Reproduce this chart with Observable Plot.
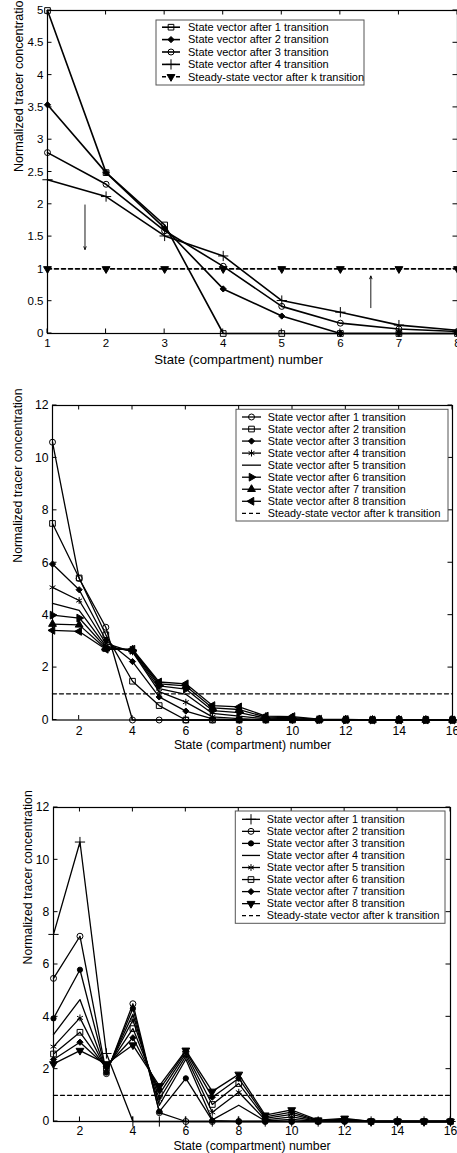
<!DOCTYPE html>
<html>
<head>
<meta charset="utf-8">
<script src="https://cdn.jsdelivr.net/npm/d3@7"></script>
<script src="https://cdn.jsdelivr.net/npm/@observablehq/plot@0.6"></script>
<style>
  html, body { margin: 0; padding: 0; background: #fff; }
  body { width: 457px; height: 1153px; overflow: hidden; }
  #root { position: relative; width: 457px; height: 1153px; }
  .panel { position: absolute; left: 0; }
  .panel svg { max-width: none !important; overflow: visible; display: block; }
</style>
</head>
<body>
<div id="root"></div>
<script>
// ---------- Panel A: 8-compartment system ----------
const statesA = [1, 2, 3, 4, 5, 6, 7, 8];
const a1 = [5.00, 2.49, 1.68, 0, 0, 0, 0, 0];
const a2 = [3.54, 2.49, 1.63, 0.69, 0.27, 0, 0, 0];
const a3 = [2.80, 2.31, 1.59, 1.04, 0.42, 0.16, 0.07, 0.03];
const a4 = [2.38, 2.12, 1.51, 1.20, 0.51, 0.33, 0.13, 0.05];
const aSteady = [1, 1, 1, 1, 1, 1, 1, 1];
const aXTicks = [1, 2, 3, 4, 5, 6, 7, 8];
const aXTickLabels = ["1", "2", "3", "4", "5", "6", "7", "8"];
const aYTicks = [0, 0.5, 1, 1.5, 2, 2.5, 3, 3.5, 4, 4.5, 5];
const aYTickLabels = ["0", "0.5", "1", "1.5", "2", "2.5", "3", "3.5", "4", "4.5", "5"];
// arrows showing the approach to steady state
const arrowX = [1.64, 6.52];
const arrowFrom = [1.99, 0.40];
const arrowTo = [1.30, 0.89];

// ---------- Panel B: 16-compartment chain ----------
const statesB = [1, 2, 3, 4, 5, 6, 7, 8, 9, 10, 11, 12, 13, 14, 15, 16];
const b1 = [10.6, 5.40, 3.54, 0, 0, 0, 0, 0, 0, 0, 0, 0, 0, 0, 0, 0];
const b2 = [7.50, 5.42, 3.25, 1.48, 0.55, 0, 0, 0, 0, 0, 0, 0, 0, 0, 0, 0];
const b3 = [5.95, 4.97, 3.05, 2.23, 0.88, 0.34, 0.04, 0, 0, 0, 0, 0, 0, 0, 0, 0];
const b4 = [5.06, 4.56, 2.92, 2.60, 1.08, 0.68, 0.12, 0.05, 0.01, 0, 0, 0, 0, 0, 0, 0];
const b5 = [4.45, 4.18, 2.82, 2.63, 1.20, 0.98, 0.25, 0.15, 0.04, 0.02, 0, 0, 0, 0, 0, 0];
const b6 = [4.00, 3.89, 2.76, 2.66, 1.30, 1.18, 0.36, 0.28, 0.07, 0.05, 0.01, 0, 0, 0, 0, 0];
const b7 = [3.66, 3.63, 2.72, 2.68, 1.38, 1.30, 0.46, 0.40, 0.11, 0.09, 0.02, 0.01, 0, 0, 0, 0];
const b8 = [3.42, 3.38, 2.70, 2.70, 1.45, 1.38, 0.55, 0.50, 0.15, 0.13, 0.03, 0.02, 0, 0, 0, 0];
const bSteady = [1, 1, 1, 1, 1, 1, 1, 1, 1, 1, 1, 1, 1, 1, 1, 1];

// ---------- Panel C: 16-compartment branched system ----------
const statesC = [1, 2, 3, 4, 5, 6, 7, 8, 9, 10, 11, 12, 13, 14, 15, 16];
const c1 = [7.15, 10.68, 2.60, 0, 0, 0, 0, 0, 0, 0, 0, 0, 0, 0, 0, 0];
const c2 = [5.47, 7.08, 1.83, 4.50, 0.34, 0, 0, 0, 0, 0, 0, 0, 0, 0, 0, 0];
const c3 = [3.94, 5.80, 1.87, 4.32, 0.38, 1.65, 0.03, 0, 0, 0, 0, 0, 0, 0, 0, 0];
const c4 = [3.32, 4.66, 1.92, 4.10, 0.62, 2.38, 0.06, 0.62, 0.02, 0.08, 0, 0, 0, 0, 0, 0];
const c5 = [2.86, 3.96, 1.97, 3.88, 0.85, 2.50, 0.35, 1.12, 0.06, 0.18, 0.01, 0.03, 0, 0, 0, 0];
const c6 = [2.58, 3.41, 2.03, 3.55, 1.05, 2.60, 0.65, 1.45, 0.12, 0.27, 0.02, 0.06, 0, 0, 0, 0];
const c7 = [2.37, 3.03, 2.10, 3.20, 1.22, 2.68, 0.93, 1.65, 0.18, 0.36, 0.03, 0.09, 0, 0, 0, 0];
const c8 = [2.20, 2.71, 2.20, 2.92, 1.36, 2.72, 1.15, 1.80, 0.24, 0.44, 0.05, 0.12, 0, 0, 0, 0];
const cSteady = [1, 1, 1, 1, 1, 1, 1, 1, 1, 1, 1, 1, 1, 1, 1, 1];

const bcXTicks = [2, 4, 6, 8, 10, 12, 14, 16];
const bcXTickLabels = ["2", "4", "6", "8", "10", "12", "14", "16"];
const bcYTicks = [0, 2, 4, 6, 8, 10, 12];
const bcYTickLabels = ["0", "2", "4", "6", "8", "10", "12"];

const seriesNames = [
  "State vector after 1 transition",
  "State vector after 2 transition",
  "State vector after 3 transition",
  "State vector after 4 transition",
  "State vector after 5 transition",
  "State vector after 6 transition",
  "State vector after 7 transition",
  "State vector after 8 transition"
];
const steadyName = "Steady-state vector after k transition";
const xTitle = "State (compartment) number";
const yTitle = "Normalized tracer concentration";

// ---------- marker styles ----------
const MK = {
  square:  {symbol: "square",   r: 3.2, fill: "none"},
  circle:  {symbol: "circle",   r: 3.0, fill: "none"},
  dot:     {symbol: "circle",   r: 2.6, fill: "black"},
  diamond: {symbol: "diamond2", r: 2.8, fill: "black"},
  plus:    {symbol: "plus",     r: 3.4, fill: "none"},
  star:    {symbol: "asterisk", r: 3.2, fill: "none"},
  down:    {symbol: "triangle", r: 2.9, fill: "black", rotate: 180},
  up:      {symbol: "triangle", r: 2.9, fill: "black", rotate: 0},
  right:   {symbol: "triangle", r: 2.9, fill: "black", rotate: 90},
  left:    {symbol: "triangle", r: 2.9, fill: "black", rotate: -90}
};
const d3Symbols = {
  square: d3.symbolSquare, circle: d3.symbolCircle, diamond2: d3.symbolDiamond2,
  plus: d3.symbolPlus, asterisk: d3.symbolAsterisk, triangle: d3.symbolTriangle
};

const FONT = "'Liberation Sans', Arial, Helvetica, sans-serif";

function buildPanel(cfg) {
  const LW = cfg.lineWidth;
  const marks = [];
  cfg.series.forEach((s) => {
    const data = s.values.map((v, i) => ({x: cfg.states[i], y: v}));
    marks.push(Plot.line(data, {x: "x", y: "y", stroke: "black", strokeWidth: LW,
      strokeDasharray: s.dash || null}));
    if (s.marker) {
      marks.push(Plot.dot(data, {x: "x", y: "y", symbol: s.marker.symbol, r: s.marker.r,
        fill: s.marker.fill, stroke: "black", strokeWidth: 1, rotate: s.marker.rotate || 0}));
    }
  });
  if (cfg.arrows) marks.push(...cfg.arrows);
  marks.push(Plot.frame({stroke: "black", strokeWidth: 1.2}));
  // tick labels
  marks.push(Plot.text(cfg.xTicks, {x: (d) => d, frameAnchor: "bottom", dy: cfg.xTickDy,
    lineAnchor: "middle", text: (d, i) => cfg.xTickLabels[i], fontSize: cfg.tickFont, fill: "black"}));
  marks.push(Plot.text(cfg.yTicks, {y: (d) => d, frameAnchor: "left", dx: -cfg.yTickPad,
    textAnchor: "end", lineAnchor: "middle", text: (d, i) => cfg.yTickLabels[i], fontSize: cfg.tickFont, fill: "black"}));
  // axis titles
  marks.push(Plot.text([xTitle], {frameAnchor: "bottom", dy: cfg.xTitleDy, dx: cfg.xTitleDx || 0,
    lineAnchor: "middle", text: (d) => d, fontSize: cfg.xTitleFont || cfg.titleFont, fill: "black"}));
  marks.push(Plot.text([yTitle], {frameAnchor: "left", dx: -cfg.yTitleOffset, rotate: -90,
    lineAnchor: "middle", text: (d) => d, fontSize: cfg.titleFont, fill: "black"}));

  const chart = Plot.plot({
    width: cfg.width, height: cfg.height,
    marginTop: cfg.mt, marginBottom: cfg.mb, marginLeft: cfg.ml, marginRight: cfg.mr,
    x: {domain: cfg.xDomain, label: null, axis: null},
    y: {domain: cfg.yDomain, label: null, axis: null},
    style: {fontFamily: FONT, color: "black", background: "white", maxWidth: "none", overflow: "visible"},
    marks
  });
  // inward ticks on all four sides of the box
  const sx = chart.scale("x"), sy = chart.scale("y");
  const [fx0, fx1] = sx.range;
  const [fy0, fy1] = sy.range; // bottom, top
  const svg = d3.select(chart);
  const tg = svg.append("g").attr("stroke", "black").attr("stroke-width", 1);
  const len = 4.5;
  cfg.xTicks.forEach((v) => {
    const px = sx.apply(v);
    tg.append("line").attr("x1", px).attr("x2", px).attr("y1", fy0).attr("y2", fy0 - len);
    tg.append("line").attr("x1", px).attr("x2", px).attr("y1", fy1).attr("y2", fy1 + len);
  });
  cfg.yTicks.forEach((v) => {
    const py = sy.apply(v);
    tg.append("line").attr("x1", fx0).attr("x2", fx0 + len).attr("y1", py).attr("y2", py);
    tg.append("line").attr("x1", fx1).attr("x2", fx1 - len).attr("y1", py).attr("y2", py);
  });
  // legend box
  const L = cfg.legend;
  const lg = svg.append("g").attr("font-family", FONT).attr("font-size", L.font).attr("text-anchor", "start");
  lg.append("rect").attr("x", L.x).attr("y", L.y).attr("width", L.w).attr("height", L.h)
    .attr("fill", "white").attr("stroke", "#555").attr("stroke-width", 1);
  cfg.series.slice().sort((p, q) => p.order - q.order).forEach((s, i) => {
    const y = L.row0 + i * L.dy;
    lg.append("line").attr("x1", L.lx0).attr("x2", L.lx1).attr("y1", y).attr("y2", y)
      .attr("stroke", "black").attr("stroke-width", LW).attr("stroke-dasharray", s.dash || null);
    if (s.marker) {
      const m = s.marker;
      lg.append("path")
        .attr("d", d3.symbol(d3Symbols[m.symbol], Math.PI * m.r * m.r)())
        .attr("transform", `translate(${(L.lx0 + L.lx1) / 2},${y}) rotate(${m.rotate || 0})`)
        .attr("fill", m.fill).attr("stroke", "black").attr("stroke-width", 1);
    }
    lg.append("text").attr("x", L.tx).attr("y", y).attr("dy", "0.35em").attr("fill", "black").text(s.name);
  });

  const holder = document.createElement("div");
  holder.className = "panel";
  holder.style.top = cfg.top + "px";
  holder.appendChild(chart);
  document.getElementById("root").appendChild(holder);
}

// ---------- Panel A ----------
buildPanel({
  top: 0, width: 460, height: 360, mt: 10, mb: 27, ml: 47, mr: 3, lineWidth: 1.6,
  states: statesA, xDomain: [1, 8], yDomain: [0, 5],
  xTicks: aXTicks, xTickLabels: aXTickLabels, yTicks: aYTicks, yTickLabels: aYTickLabels,
  tickFont: 11.5, titleFont: 12.6, xTitleFont: 13.2, xTickDy: 10, yTickPad: 4, xTitleDy: 26, xTitleDx: -14, yTitleOffset: 28.5,
  series: [
    {values: aSteady, name: steadyName, dash: "4,3", marker: MK.down, order: 4},
    {values: a1, name: seriesNames[0], marker: MK.square, order: 0},
    {values: a2, name: seriesNames[1], marker: MK.diamond, order: 1},
    {values: a3, name: seriesNames[2], marker: MK.circle, order: 2},
    {values: a4, name: seriesNames[3], marker: MK.plus, order: 3}
  ],
  arrows: [
    Plot.arrow(arrowX.map((x, i) => ({x, y1: arrowFrom[i], y2: arrowTo[i]})),
      {x1: "x", x2: "x", y1: "y1", y2: "y2", stroke: "black", strokeWidth: 0.9, headLength: 5, headAngle: 45})
  ],
  legend: {x: 156, y: 20, w: 208, h: 65, row0: 27.2, dy: 12.4, lx0: 162, lx1: 180, tx: 188, font: 11}
});

// ---------- Panel B ----------
buildPanel({
  top: 380, width: 457, height: 380, mt: 25, mb: 40.5, ml: 52, mr: 5, lineWidth: 1.3,
  states: statesB, xDomain: [1, 16], yDomain: [0, 12],
  xTicks: bcXTicks, xTickLabels: bcXTickLabels, yTicks: bcYTicks, yTickLabels: bcYTickLabels,
  tickFont: 12.2, titleFont: 12.3, xTickDy: 11.5, yTickPad: 4, xTitleDy: 25.5, yTitleOffset: 34.5,
  series: [
    {values: bSteady, name: steadyName, dash: "4,3", order: 8},
    {values: b1, name: seriesNames[0], marker: MK.circle, order: 0},
    {values: b2, name: seriesNames[1], marker: MK.square, order: 1},
    {values: b3, name: seriesNames[2], marker: MK.diamond, order: 2},
    {values: b4, name: seriesNames[3], marker: MK.star, order: 3},
    {values: b5, name: seriesNames[4], order: 4},
    {values: b6, name: seriesNames[5], marker: MK.right, order: 5},
    {values: b7, name: seriesNames[6], marker: MK.up, order: 6},
    {values: b8, name: seriesNames[7], marker: MK.left, order: 7}
  ],
  legend: {x: 236, y: 29.3, w: 212, h: 111.7, row0: 37, dy: 12.04, lx0: 242, lx1: 261, tx: 267.7, font: 10.8}
});

// ---------- Panel C ----------
buildPanel({
  top: 760, width: 457, height: 393, mt: 47, mb: 32, ml: 53, mr: 7, lineWidth: 1.3,
  states: statesC, xDomain: [1, 16], yDomain: [0, 12],
  xTicks: bcXTicks, xTickLabels: bcXTickLabels, yTicks: bcYTicks, yTickLabels: bcYTickLabels,
  tickFont: 12.2, titleFont: 12.3, xTickDy: 10, yTickPad: 4.3, xTitleDy: 25, yTitleOffset: 25,
  series: [
    {values: cSteady, name: steadyName, dash: "4,3", order: 8},
    {values: c1, name: seriesNames[0], marker: MK.plus, order: 0},
    {values: c2, name: seriesNames[1], marker: MK.circle, order: 1},
    {values: c3, name: seriesNames[2], marker: MK.dot, order: 2},
    {values: c4, name: seriesNames[3], order: 3},
    {values: c5, name: seriesNames[4], marker: MK.star, order: 4},
    {values: c6, name: seriesNames[5], marker: MK.square, order: 5},
    {values: c7, name: seriesNames[6], marker: MK.diamond, order: 6},
    {values: c8, name: seriesNames[7], marker: MK.down, order: 7}
  ],
  legend: {x: 235.3, y: 51, w: 209.7, h: 112.3, row0: 59.3, dy: 12.05, lx0: 242, lx1: 260, tx: 266.7, font: 10.8}
});
</script>
</body>
</html>
